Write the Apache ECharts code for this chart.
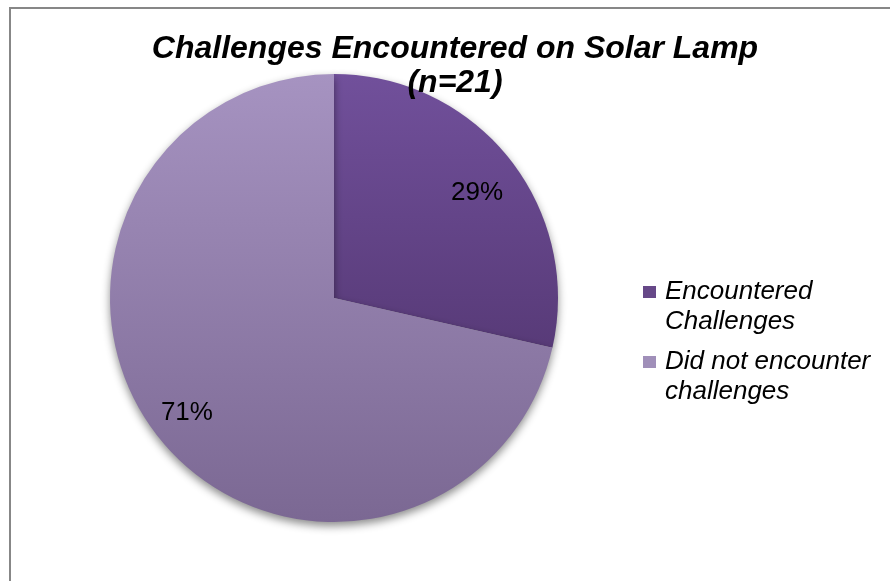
<!DOCTYPE html>
<html>
<head>
<meta charset="utf-8">
<script src="https://cdn.jsdelivr.net/npm/echarts@6/dist/echarts.min.js"></script>
<style>html,body{margin:0;padding:0;background:#fff;}#c{width:890px;height:581px;}</style>
</head>
<body>
<div id="c"></div>
<script>
const titleText = 'Challenges Encountered on Solar Lamp\n(n=21)';
const categories = ['Encountered Challenges', 'Did not encounter challenges'];
const legendLabels = ['Encountered\nChallenges', 'Did not encounter\nchallenges'];
const counts = [6, 15];
const pctLabels = ['29%', '71%'];

const cx = 334, cy = 298, R = 224;
function grad(top, bottom) {
  return { type: 'linear', x: 0, y: cy - R, x2: 0, y2: cy + R, global: true,
    colorStops: [{ offset: 0, color: top }, { offset: 1, color: bottom }] };
}
const fills = [grad('#71509b', '#482d62'), grad('#a693c1', '#7b6893')];
const legendColors = ['#664888', '#a08fb9'];
const labelOffsets = [[0, 9], [-4, 1]];

const chart = echarts.init(document.getElementById('c'));
chart.setOption({
  animation: false,
  backgroundColor: '#fff',
  graphic: [{ type: 'rect', shape: { x: 10, y: 8, width: 1000, height: 1000 },
    style: { fill: 'none', stroke: '#878787', lineWidth: 2 }, silent: true }],
  title: {
    text: titleText, left: 455, top: 32, padding: 0, textAlign: 'center',
    textStyle: { fontFamily: 'Arial, Liberation Sans', fontSize: 32, fontWeight: 'bold', fontStyle: 'italic', color: '#000', lineHeight: 34 }
  },
  legend: {
    orient: 'vertical', left: 643, top: 247, padding: 0, itemWidth: 13, itemHeight: 12, itemGap: -20,
    icon: 'rect',
    data: categories.map((n, i) => ({ name: n, itemStyle: { color: legendColors[i] } })),
    formatter: n => ' \n' + legendLabels[categories.indexOf(n)],
    textStyle: { fontFamily: 'Arial, Liberation Sans', fontSize: 26, fontStyle: 'italic', color: '#000', lineHeight: 30, padding: [0, 0, 0, 4] }
  },
  series: [{
    type: 'pie', center: [cx, cy], radius: [0, R], startAngle: 90, clockwise: true,
    label: { show: false }, labelLine: { show: false },
    itemStyle: { shadowBlur: 8, shadowOffsetY: 4, shadowOffsetX: 0, shadowColor: 'rgba(0,0,0,0.45)' },
    emphasis: { disabled: true },
    data: categories.map((n, i) => ({ name: n, value: counts[i], itemStyle: { color: fills[i] } }))
  }, {
    type: 'pie', center: [cx, cy], radius: [136, R], startAngle: 90, clockwise: true, silent: true,
    itemStyle: { color: 'rgba(0,0,0,0)' },
    label: { show: true, position: 'inside', formatter: p => pctLabels[p.dataIndex],
      fontFamily: 'Arial, Liberation Sans', fontSize: 26, color: '#000' },
    labelLine: { show: false },
    emphasis: { disabled: true },
    data: categories.map((n, i) => ({ name: n, value: counts[i], label: { offset: labelOffsets[i] } }))
  }]
});
</script>
</body>
</html>
